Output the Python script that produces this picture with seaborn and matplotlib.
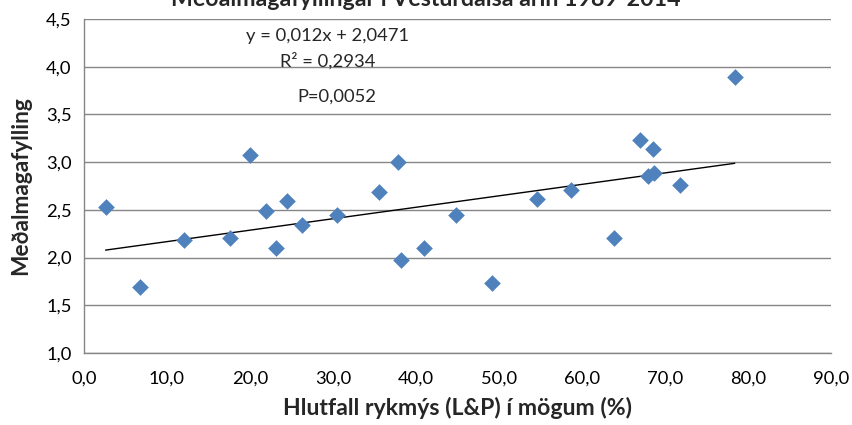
import matplotlib
matplotlib.use("Agg")
import matplotlib.pyplot as plt
import seaborn as sns
import pandas as pd
import numpy as np

# Proportion of blackfly (L&P) in stomachs (%) vs. mean stomach fullness
hlutfall = [2.6, 6.8, 12.1, 17.6, 20.0, 21.9, 23.1, 24.4, 26.3, 30.5,
            35.5, 37.8, 38.2, 41.0, 44.8, 49.1, 54.6, 58.7, 63.8, 67.0,
            68.5, 68.0, 68.7, 71.8, 78.4]
magafylling = [2.53, 1.69, 2.18, 2.20, 3.07, 2.49, 2.10, 2.59, 2.34, 2.45,
               2.69, 3.00, 1.97, 2.10, 2.45, 1.73, 2.61, 2.71, 2.21, 3.23,
               3.14, 2.85, 2.89, 2.76, 3.89]

# Linear trend line coefficients
slope = 0.012
intercept = 2.0471
r2_text = "R² = 0,2934"
p_text = "P=0,0052"
eq_text = "y = 0,012x + 2,0471"

x_ticks = [0, 10, 20, 30, 40, 50, 60, 70, 80, 90]
y_ticks = [1.0, 1.5, 2.0, 2.5, 3.0, 3.5, 4.0, 4.5]

title = "Meðalmagafyllingar í Vesturdalsá árin 1989-2014"
x_label = "Hlutfall rykmýs (L&P) í mögum (%)"
y_label = "Meðalmagafylling"

sns.set_theme(style="white")
plt.rcParams["font.family"] = ["Lato", "DejaVu Sans"]

W, H = 853, 425
fig = plt.figure(figsize=(W / 100, H / 100), dpi=100)
ax = fig.add_axes([84 / W, 1 - 353 / H, (831 - 84) / W, (353 - 19) / H])

df = pd.DataFrame({"x": hlutfall, "y": magafylling})
sns.scatterplot(data=df, x="x", y="y", ax=ax, marker="D", s=72,
                color="#4F81BD", linewidth=0, zorder=3)

trend = pd.DataFrame({"x": [min(hlutfall), max(hlutfall)]})
trend["y"] = intercept + slope * trend["x"]
sns.lineplot(data=trend, x="x", y="y", ax=ax, color="black", linewidth=1.0,
             zorder=2)

ax.set_xlim(0, 90)
ax.set_ylim(1.0, 4.5)
ax.set_xticks(x_ticks)
ax.set_yticks(y_ticks)
ax.set_xticklabels([f"{v:.1f}".replace(".", ",") for v in x_ticks])
ax.set_yticklabels([f"{v:.1f}".replace(".", ",") for v in y_ticks])
ax.tick_params(axis="both", labelsize=13.2, colors="#868686",
               labelcolor="black", length=5, width=1, direction="out")
ax.tick_params(axis="x", pad=8)
ax.tick_params(axis="y", pad=4)
ax.yaxis.grid(True, color="#868686", linewidth=1)
ax.xaxis.grid(False)
for side in ("top", "right"):
    ax.spines[side].set_visible(False)
for side in ("left", "bottom"):
    ax.spines[side].set_color("#868686")
    ax.spines[side].set_linewidth(1)

ax.set_xlabel("")
ax.set_ylabel("")
fig.text(458 / W, 1 - 415 / H, x_label, ha="center", va="baseline",
         fontsize=16.6, fontweight="bold")
fig.text(21 / W, 1 - 186 / H, y_label, ha="center", va="center",
         rotation=90, fontsize=16.3, fontweight="bold")
fig.text(426 / W, 1 - 6 / H, title, ha="center", va="baseline",
         fontsize=16.7, fontweight="bold")

fig.text(328 / W, 1 - 41 / H, eq_text, ha="center", va="baseline",
         fontsize=13.2)
fig.text(328 / W, 1 - 67 / H, r2_text, ha="center", va="baseline",
         fontsize=13.2)
fig.text(337 / W, 1 - 102 / H, p_text, ha="center", va="baseline",
         fontsize=13.2)

fig.savefig("out.png", dpi=100)
